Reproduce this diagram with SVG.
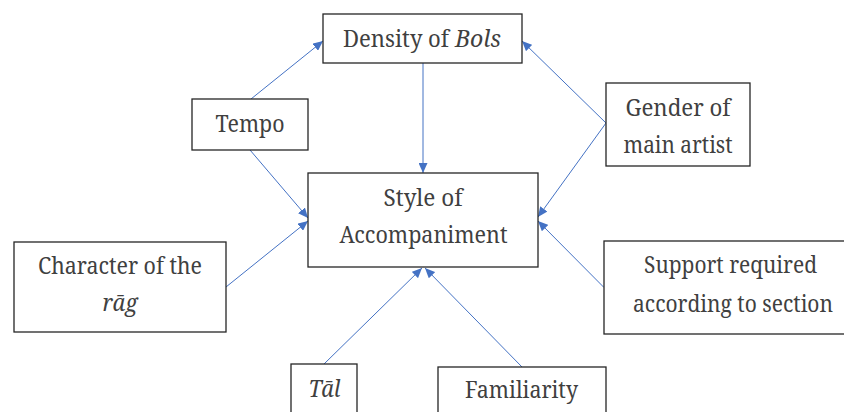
<svg xmlns="http://www.w3.org/2000/svg" width="844" height="412" viewBox="0 0 844 412">
<defs>
<marker id="arr" markerUnits="userSpaceOnUse" markerWidth="11" markerHeight="9" refX="10" refY="4.5" orient="auto">
<path d="M0,0 L10,4.5 L0,9 Z" fill="#4472C4"/>
</marker>
<style>
.box{fill:#fff;stroke:#262626;stroke-width:1.3}
.t{font-family:"Noto Serif","DejaVu Serif","Liberation Serif",serif;font-size:23px;fill:#404040;text-anchor:middle}
.s{text-anchor:start}
.i{font-style:italic}
.c{stroke:#4472C4;stroke-width:1;fill:none;marker-end:url(#arr)}
</style>
</defs>
<rect width="844" height="412" fill="#fff"/>
<g id="connectors">
<line class="c" x1="251" y1="99" x2="323" y2="41"/>
<line class="c" x1="250" y1="150" x2="308" y2="218"/>
<line class="c" x1="226" y1="287" x2="308" y2="221"/>
<line class="c" x1="423" y1="63" x2="423" y2="173"/>
<line class="c" x1="606" y1="123" x2="522" y2="41"/>
<line class="c" x1="606" y1="123" x2="538" y2="217"/>
<line class="c" x1="604" y1="287.5" x2="538" y2="221"/>
<line class="c" x1="324" y1="364" x2="422" y2="268"/>
<line class="c" x1="522" y1="367" x2="425" y2="268"/>
</g>
<g id="density">
<rect class="box" x="323" y="14" width="199" height="49"/>
<text class="t s" x="343" y="47" textLength="106" lengthAdjust="spacingAndGlyphs">Density of</text>
<text class="t s i" x="455" y="47" textLength="46" lengthAdjust="spacingAndGlyphs">Bols</text>
</g>
<g id="tempo">
<rect class="box" x="192" y="99" width="116" height="51"/>
<text class="t" x="250" y="132" textLength="69" lengthAdjust="spacingAndGlyphs">Tempo</text>
</g>
<g id="style">
<rect class="box" x="308" y="173" width="230" height="94"/>
<text class="t" x="423" y="206" textLength="79" lengthAdjust="spacingAndGlyphs">Style of</text>
<text class="t" x="423.5" y="243" textLength="168" lengthAdjust="spacingAndGlyphs">Accompaniment</text>
</g>
<g id="character">
<rect class="box" x="14" y="242" width="212" height="90"/>
<text class="t" x="120" y="274" textLength="164" lengthAdjust="spacingAndGlyphs">Character of the</text>
<text class="t i" x="120" y="311" textLength="35" lengthAdjust="spacingAndGlyphs">rāg</text>
</g>
<g id="gender">
<rect class="box" x="606" y="83" width="144" height="83"/>
<text class="t" x="678" y="116" textLength="105" lengthAdjust="spacingAndGlyphs">Gender of</text>
<text class="t" x="678" y="153" textLength="109" lengthAdjust="spacingAndGlyphs">main artist</text>
</g>
<g id="support">
<rect class="box" x="604" y="241" width="258" height="93"/>
<text class="t" x="730.5" y="273" textLength="173" lengthAdjust="spacingAndGlyphs">Support required</text>
<text class="t" x="733" y="312" textLength="200" lengthAdjust="spacingAndGlyphs">according to section</text>
</g>
<g id="tal">
<rect class="box" x="291" y="364" width="66" height="60"/>
<text class="t i" x="324.5" y="397" textLength="32" lengthAdjust="spacingAndGlyphs">Tāl</text>
</g>
<g id="familiarity">
<rect class="box" x="438" y="367" width="168" height="60"/>
<text class="t" x="521.5" y="398" textLength="113" lengthAdjust="spacingAndGlyphs">Familiarity</text>
</g>
</svg>
